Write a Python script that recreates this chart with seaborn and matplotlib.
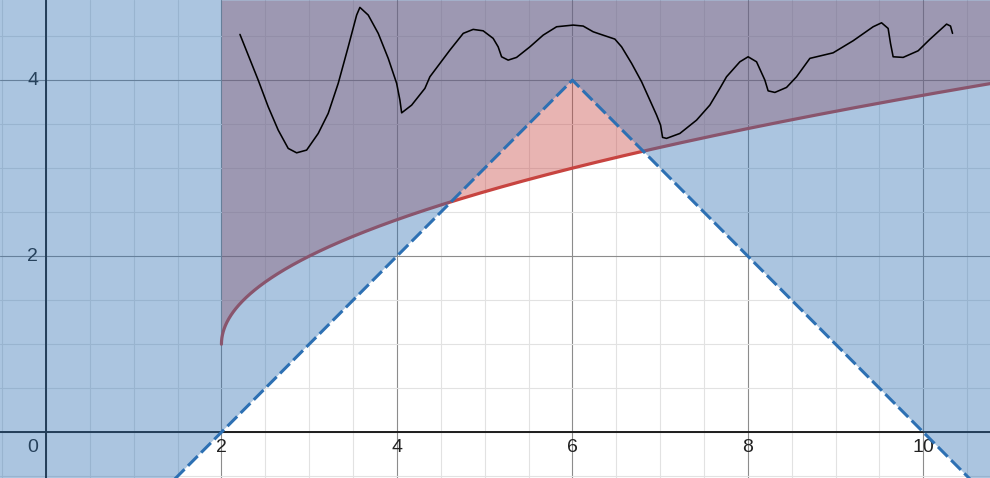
import numpy as np
import pandas as pd
import matplotlib
matplotlib.use("Agg")
import matplotlib.pyplot as plt
from matplotlib.ticker import MultipleLocator
import seaborn as sns

# view window (graph units)
X_MIN, X_MAX = -0.524, 10.76
Y_MIN, Y_MAX = -0.52, 4.91

# y = 4 - |x - 6|  (dashed, shaded above)
PEAK_X, PEAK_Y = 6.0, 4.0
# y = sqrt(x - 2) + 1 (solid, shaded above, x >= 2)
ROOT_X, ROOT_Y = 2.0, 1.0

BLUE = "#2d70b3"
RED = "#c74440"

# freehand black stroke
sketch_x = [2.211, 2.419, 2.533, 2.647, 2.761, 2.857, 2.971, 3.103, 3.217, 3.331,
            3.445, 3.541, 3.578, 3.673, 3.787, 3.901, 3.997, 4.034, 4.054, 4.168,
            4.319, 4.376, 4.604, 4.756, 4.869, 4.983, 5.097, 5.154, 5.193, 5.268,
            5.364, 5.516, 5.667, 5.820, 6.009, 6.123, 6.237, 6.313, 6.484, 6.561,
            6.675, 6.789, 6.883, 6.960, 7.005, 7.028, 7.073, 7.225, 7.415, 7.567,
            7.681, 7.757, 7.909,
            8.003, 8.099, 8.194, 8.231, 8.308, 8.441, 8.555, 8.707, 8.783, 8.972,
            9.200, 9.428, 9.524, 9.599, 9.626, 9.656, 9.770, 9.941, 10.074, 10.265,
            10.310, 10.333]
sketch_y = [4.519, 4.000, 3.697, 3.432, 3.224, 3.174, 3.205, 3.394, 3.622, 3.963,
            4.378, 4.739, 4.826, 4.739, 4.531, 4.247, 3.963, 3.773, 3.628, 3.716,
            3.906, 4.038, 4.341, 4.531, 4.576, 4.560, 4.474, 4.378, 4.265, 4.227,
            4.258, 4.378, 4.511, 4.606, 4.625, 4.614, 4.549, 4.523, 4.466, 4.378,
            4.190, 3.981, 3.773, 3.602, 3.489, 3.349, 3.338, 3.394, 3.545, 3.716,
            3.906, 4.038, 4.208,
            4.265, 4.208, 4.000, 3.878, 3.860, 3.917, 4.038, 4.247, 4.265, 4.310,
            4.447, 4.606, 4.651, 4.587, 4.417, 4.265, 4.258, 4.333, 4.463, 4.636,
            4.614, 4.531]

tick_vals_x = [2, 4, 6, 8, 10]
tick_vals_y = [2, 4]

sns.set_style("white")
plt.rcParams["font.family"] = ["Liberation Sans", "DejaVu Sans"]

fig = plt.figure(figsize=(9.9, 4.78), dpi=100)
ax = fig.add_axes([0, 0, 1, 1])
ax.set_xlim(X_MIN, X_MAX)
ax.set_ylim(Y_MIN, Y_MAX)

# grid
ax.xaxis.set_major_locator(MultipleLocator(2))
ax.yaxis.set_major_locator(MultipleLocator(2))
ax.xaxis.set_minor_locator(MultipleLocator(0.5))
ax.yaxis.set_minor_locator(MultipleLocator(0.5))
ax.grid(which="major", color="#8c8c8c", lw=0.8, zorder=0)
ax.grid(which="minor", color="#e2e2e2", lw=0.8, zorder=0)
ax.set_axisbelow(True)
ax.tick_params(which="both", length=0, labelbottom=False, labelleft=False)
for s in ax.spines.values():
    s.set_visible(False)

ax.axhline(0, color="#1e1e1e", lw=1.4, zorder=1)
ax.axvline(0, color="#1e1e1e", lw=1.4, zorder=1)

# tick labels (under the shading, like the original)
for v in tick_vals_x:
    ax.text(v, -0.17, str(v), ha="center", va="center", fontsize=14, color="#222222", zorder=1.2)
ax.text(-0.15, -0.17, "0", ha="center", va="center", fontsize=14, color="#222222", zorder=1.2)
for v in tick_vals_y:
    ax.text(-0.15, v, str(v), ha="center", va="center", fontsize=14, color="#222222", zorder=1.2)

# functions
xs = np.linspace(X_MIN, X_MAX, 3000)
tri = pd.DataFrame({"x": xs, "y": PEAK_Y - np.abs(xs - PEAK_X)})
sx = ROOT_X + np.linspace(0, 1, 3000) ** 2 * (X_MAX - ROOT_X)
root = pd.DataFrame({"x": sx, "y": np.sqrt(sx - ROOT_X) + ROOT_Y})

sns.lineplot(data=root, x="x", y="y", color=RED, lw=2.3, sort=False,
             estimator=None, ax=ax, zorder=2)
ax.fill_between(root["x"], root["y"], Y_MAX, color=RED, alpha=0.4, lw=0, zorder=3)
ax.fill_between(tri["x"], tri["y"], Y_MAX, color=BLUE, alpha=0.4, lw=0, zorder=4)
sns.lineplot(data=tri, x="x", y="y", color=BLUE, lw=2.2, sort=False,
             estimator=None, ax=ax, zorder=5)
ax.lines[-1].set_dashes((4.5, 1.6))

sketch = pd.DataFrame({"x": sketch_x, "y": sketch_y})
sns.lineplot(data=sketch, x="x", y="y", color="black", lw=1.15, sort=False,
             estimator=None, ax=ax, zorder=6)
ax.set_xlabel("")
ax.set_ylabel("")

fig.savefig("out.png", dpi=100)
